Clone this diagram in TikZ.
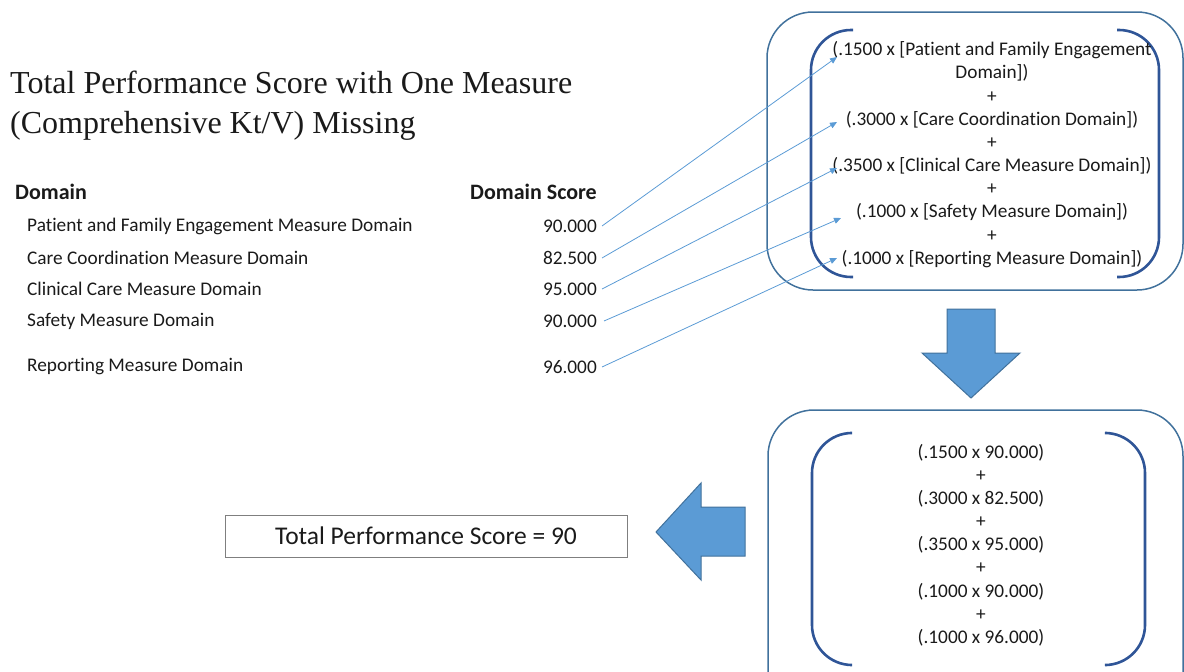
\documentclass[tikz,border=0pt]{standalone}
\usepackage{fontspec}
\setmainfont[Ligatures={NoCommon}]{Carlito}
\newfontfamily\titlefont{Liberation Serif}
\usetikzlibrary{arrows.meta}
\definecolor{arrowfill}{HTML}{5B9BD5}
\definecolor{arrowdraw}{HTML}{41719C}
\definecolor{boxline}{HTML}{41719C}
\definecolor{bracketline}{HTML}{2F5597}
\definecolor{txt}{HTML}{1A1A1A}
\definecolor{conncol}{HTML}{5B9BD5}
\definecolor{scorebox}{HTML}{7F7F7F}
\begin{document}
\begin{tikzpicture}[x=1pt,y=-1pt,
  body/.style={font=\fontsize{19.3}{23}\selectfont, text=txt, inner sep=0pt},
  bodyb/.style={body, font=\fontsize{22}{26}\selectfont\bfseries},
  formula/.style={body, anchor=center},
  conn/.style={draw=conncol, line width=0.8pt, -{Triangle[length=7pt,width=6pt]}},
  outerbox/.style={draw=boxline, line width=1.5pt, rounded corners=46pt},
  bracket/.style={draw=bracketline, line width=2.6pt, rounded corners=40pt},
  blockarrow/.style={fill=arrowfill, draw=arrowdraw, line width=1pt, line join=miter}
]
\useasboundingbox (0,0) rectangle (1184,672);
\clip (0,0) rectangle (1184,672);

% title
\node[anchor=west, inner sep=0pt, text=txt, align=left,
      font=\titlefont\fontsize{32}{40}\selectfont] (title) at (10,106)
  {Total Performance Score with One Measure\\(Comprehensive Kt/V) Missing};

% table
\node[bodyb, anchor=west] (hdom) at (15,192) {Domain};
\node[bodyb, anchor=east] (hscore) at (597,192) {Domain Score};
\node[body, anchor=west] (d1) at (27,226) {Patient and Family Engagement Measure Domain};
\node[body, anchor=west] (d2) at (27,258) {Care Coordination Measure Domain};
\node[body, anchor=west] (d3) at (27,289) {Clinical Care Measure Domain};
\node[body, anchor=west] (d4) at (27,321) {Safety Measure Domain};
\node[body, anchor=west] (d5) at (27,367) {Reporting Measure Domain};
\node[body, anchor=east] (s1) at (597,226) {90.000};
\node[body, anchor=east] (s2) at (597,258) {82.500};
\node[body, anchor=east] (s3) at (597,289) {95.000};
\node[body, anchor=east] (s4) at (597,321) {90.000};
\node[body, anchor=east] (s5) at (597,367) {96.000};

% top box
\draw[outerbox] (767,12) rectangle (1183,290);
\draw[bracket] (853,30) -- (811,30) -- (811,277) -- (853,277);
\draw[bracket] (1117,30) -- (1159,30) -- (1159,277) -- (1117,277);
\node[formula] (f1) at (992,50) {(.1500 x [Patient and Family Engagement};
\node[formula] (f1b) at (992,73) {Domain])};
\node[formula] (p1) at (992,97) {+};
\node[formula] (f2) at (992,120) {(.3000 x [Care Coordination Domain])};
\node[formula] (p2) at (992,143) {+};
\node[formula] (f3) at (992,166) {(.3500 x [Clinical Care Measure Domain])};
\node[formula] (p3) at (992,189) {+};
\node[formula] (f4) at (992,212) {(.1000 x [Safety Measure Domain])};
\node[formula] (p4) at (992,236) {+};
\node[formula] (f5) at (992,259) {(.1000 x [Reporting Measure Domain])};

% connectors
\coordinate (t1) at (837,57);
\coordinate (t2) at (837,122);
\coordinate (t3) at (837,168);
\coordinate (t4) at (841,218);
\coordinate (t5) at (837,258);
\draw[conn] ([xshift=5pt]s1.east) -- (t1);
\draw[conn] ([xshift=5pt]s2.east) -- (t2);
\draw[conn] ([xshift=5pt]s3.east) -- (t3);
\draw[conn] ([xshift=7pt]s4.east) -- (t4);
\draw[conn] ([xshift=5pt]s5.east) -- (t5);

% down arrow
\draw[blockarrow] (947,309) -- (995,309) -- (995,353) -- (1020,353) -- (971,398)
  -- (922,353) -- (947,353) -- cycle;

% bottom box
\draw[outerbox] (768,410) rectangle (1183,720);
\draw[bracket] (850,433) -- (812,433) -- (812,665) -- (850,665);
\draw[bracket] (1107,433) -- (1145,433) -- (1145,665) -- (1107,665);
\node[formula] (g1) at (981,453) {(.1500 x 90.000)};
\node[formula] (q1) at (981,476) {+};
\node[formula] (g2) at (981,499) {(.3000 x 82.500)};
\node[formula] (q2) at (981,522) {+};
\node[formula] (g3) at (981,545) {(.3500 x 95.000)};
\node[formula] (q3) at (981,568) {+};
\node[formula] (g4) at (981,592) {(.1000 x 90.000)};
\node[formula] (q4) at (981,615) {+};
\node[formula] (g5) at (981,638) {(.1000 x 96.000)};

% left arrow
\draw[blockarrow] (745,507) -- (745,556) -- (701,556) -- (701,580) -- (656,532)
  -- (701,483) -- (701,507) -- cycle;

% result box
\node[draw=scorebox, line width=0.8pt, minimum width=402pt, minimum height=42pt,
      inner sep=0pt, text=txt, font=\fontsize{25.5}{30}\selectfont] (total) at (426,536)
  {Total Performance Score = 90};
\end{tikzpicture}
\end{document}
